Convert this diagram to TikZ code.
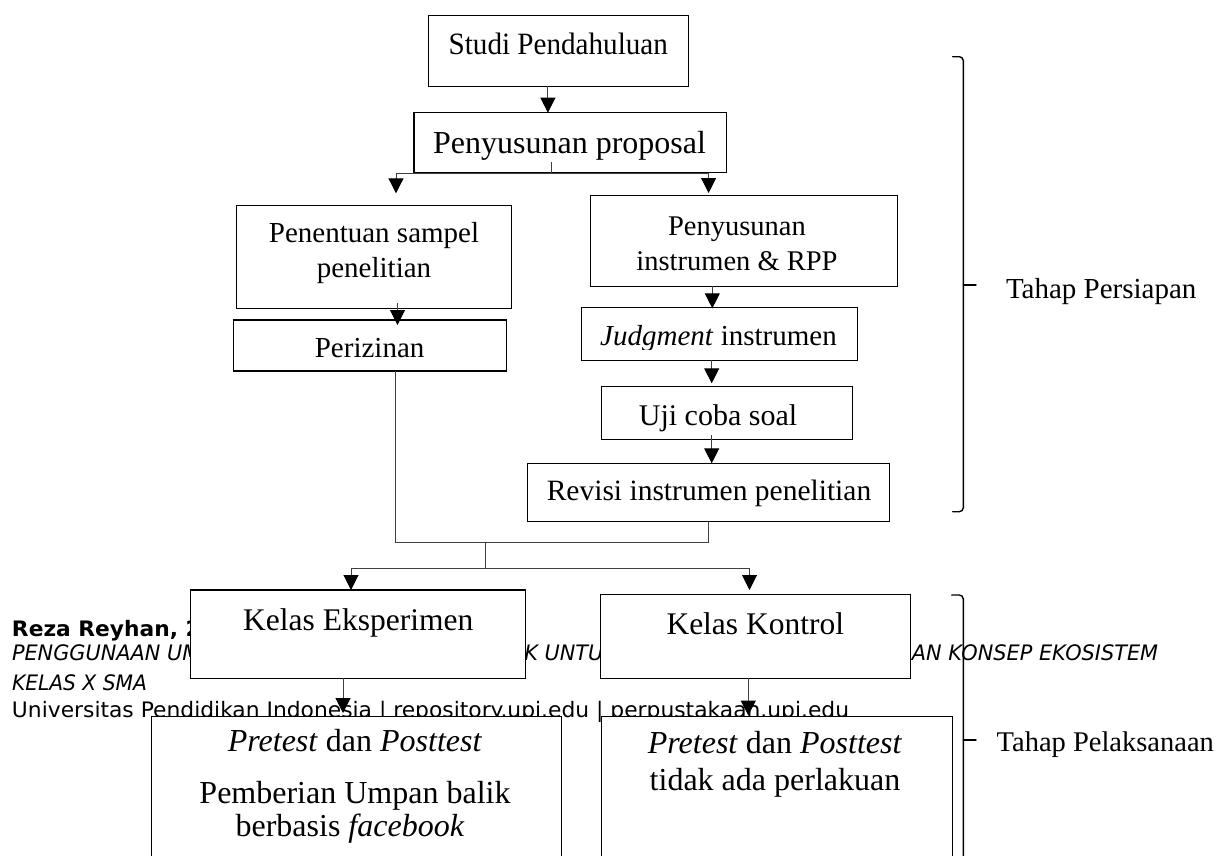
\documentclass[tikz,border=0pt]{standalone}
\usepackage{fontspec}
\usepackage{graphicx}
\setmainfont{Liberation Serif}
\newfontfamily\footfont{DejaVu Sans}
\usetikzlibrary{arrows.meta,calc}
\newcommand\fsz[1]{\fontsize{#1}{#1}\selectfont}
\newlength\footw
\newsavebox\footbox
\begin{document}
\sbox\footbox{\footfont\fsz{21.3}Universitas Pendidikan Indonesia | repository.upi.edu | perpustakaan.upi.edu}%
\setlength\footw{\wd\footbox}%
\pgfmathsetmacro\fsc{835/\footw}%
\begin{tikzpicture}[x=1pt,y=-1pt,
  box/.style={draw=black,line width=1.1pt,fill=white,inner sep=0pt,outer sep=0pt},
  txt/.style={anchor=base,inner sep=0pt,outer sep=0pt},
  ln/.style={draw=black!75,line width=1pt},
  arr/.style={ln,-{Triangle[width=15pt,length=15pt,color=black]}},
  brk/.style={draw=black,line width=1.4pt,line cap=round},
  foot/.style={anchor=base west,inner sep=0pt,outer sep=0pt,font=\footfont\fsz{21.3}}]
\useasboundingbox (0,0) rectangle (1224,855);
\clip (0,0) rectangle (1224,855);
\fill[white] (0,0) rectangle (1224,855);
% footer (behind the boxes)
\node[foot] (f1) at (12,636.7) {\scalebox{\fsc}[1]{\bfseries Reza Reyhan, 2014}};
\node[foot] (f2) at (12,660.5) {\resizebox{1146pt}{\height}{\itshape PENGGUNAAN UMPAN BALIK BERBASIS FACEBOOK UNTUK MENINGKATKAN PENGUASAAN KONSEP EKOSISTEM}};
\node[foot] (f3) at (12,690) {\resizebox{135pt}{\height}{\itshape KELAS X SMA}};
\node[foot] (f4) at (12,717.8) {\resizebox{837pt}{\height}{Universitas Pendidikan Indonesia | repository.upi.edu | perpustakaan.upi.edu}};
% boxes
\node[box,minimum width=260pt,minimum height=70.6pt] (studi) at (558.2,51) {};
\node[box,minimum width=312.5pt,minimum height=59.3pt] (prop) at (570.2,142.4) {};
\node[box,minimum width=275pt,minimum height=103pt] (pen) at (374.3,257.2) {};
\node[box,minimum width=307.7pt,minimum height=90.3pt] (ins) at (743.9,240.9) {};
\node[box,minimum width=273.6pt,minimum height=51pt] (per) at (370,345.5) {};
\node[box,minimum width=276pt,minimum height=52.3pt] (jud) at (719.7,333.9) {};
\node[box,minimum width=251pt,minimum height=52.3pt] (uji) at (727.2,412.9) {};
\node[box,minimum width=361.8pt,minimum height=58.4pt] (rev) at (708.4,492.5) {};
\node[box,minimum width=335.3pt,minimum height=88.3pt] (ke) at (358.25,634.15) {};
\node[box,minimum width=310.5pt,minimum height=84pt] (kk) at (755.45,636.3) {};
\node[box,minimum width=410pt,minimum height=163.5pt] (pl) at (356.7,798.25) {};
\node[box,minimum width=350.6pt,minimum height=163.5pt] (pr) at (777,798.25) {};
% box texts
\node[txt,font=\fsz{31}] (studiT) at (558.3,54) {\scalebox{0.94}[1]{Studi Pendahuluan}};
\node[txt,font=\fsz{32}] (propT) at (569.6,153.3) {Penyusunan proposal};
\node[txt,font=\fsz{29}] (penT1) at (374,242) {Penentuan sampel};
\node[txt,font=\fsz{29}] (penT2) at (374,277) {penelitian};
\node[txt,font=\fsz{28.5}] (insT1) at (737,235) {Penyusunan};
\node[txt,font=\fsz{28.5}] (insT2) at (737,270) {instrumen \& RPP};
\node[txt,font=\fsz{29}] (perT) at (369.6,357.3) {Perizinan};
\begin{scope}
\clip (575,300) rectangle (865,349.5);
\node[txt,font=\fsz{29}] (judT) at (718.5,345) {\textit{Judgment} instrumen};
\end{scope}
\node[txt,font=\fsz{30}] (ujiT) at (718,425) {Uji coba soal};
\node[txt,font=\fsz{29.5}] (revT) at (709,500) {Revisi instrumen penelitian};
\node[txt,font=\fsz{31.5}] (keT) at (358.2,630) {Kelas Eksperimen};
\node[txt,font=\fsz{31.5}] (kkT) at (755.3,634) {Kelas Kontrol};
\node[txt,font=\fsz{32}] (plT1) at (355,751.7) {\textit{Pretest} dan \textit{Posttest}};
\node[txt,font=\fsz{32}] (plT2) at (355,803.3) {Pemberian Umpan balik};
\node[txt,font=\fsz{32}] (plT3) at (350,836.7) {berbasis \textit{facebook}};
\node[txt,font=\fsz{32}] (prT1) at (775,753.3) {\textit{Pretest} dan \textit{Posttest}};
\node[txt,font=\fsz{32}] (prT2) at (775,790) {tidak ada perlakuan};
% connectors
\coordinate (t1) at (547.9,112.7);
\draw[arr] (studi.south -| t1) -- (t1);
\coordinate (h1) at (551.8,173.5);
\coordinate (t2) at (396,193.3);
\coordinate (t3) at (708.6,193);
\draw[ln] ($(prop.south -| h1)+(0,-10.3)$) -- (h1);
\draw[arr] (h1) -| (t2);
\draw[arr] (h1) -| (t3);
\coordinate (t4) at (397.5,325);
\draw[arr] ($(pen.south -| t4)+(0,-5.7)$) -- (t4);
\coordinate (t5) at (712.3,308.3);
\draw[arr] (ins.south -| t5) -- (t5);
\coordinate (t6) at (711.7,383.3);
\draw[arr] (jud.south -| t6) -- (t6);
\coordinate (t7) at (711.7,463.3);
\draw[arr] ($(uji.south -| t7)+(0,-4)$) -- (t7);
\coordinate (m1) at (395.7,542);
\coordinate (m2) at (708.2,542);
\draw[ln] (per.south -| m1) -- (m1) -- (m2) -- (rev.south -| m2);
\coordinate (m3) at (485.7,542);
\coordinate (m4) at (485.7,568);
\draw[ln] (m3) -- (m4);
\coordinate (t8) at (351,590);
\coordinate (t9) at (749.5,590);
\draw[arr] (m4) -| (t8);
\draw[arr] (m4) -| (t9);
\coordinate (t10) at (343,713);
\draw[arr] (ke.south -| t10) -- (t10);
\coordinate (t11) at (748.3,715.5);
\draw[arr] (kk.south -| t11) -- (t11);
% brackets
\draw[brk,rounded corners=4pt] (952.7,56.7) -- (963.3,56.7) -- (963.3,511.7) -- (952.7,511.7);
\draw[brk] (963.3,285) -- (976,285);
\draw[brk,rounded corners=4pt] (951.7,595) -- (963.3,595) -- (963.3,880);
\draw[brk] (963.3,740) -- (976,740);
\node[txt,anchor=base west,font=\fsz{29}] (tp1) at (1006,298.3) {Tahap Persiapan};
\node[txt,anchor=base west,font=\fsz{28.5}] (tp2) at (996.7,751.7) {Tahap Pelaksanaan};
\end{tikzpicture}
\end{document}
